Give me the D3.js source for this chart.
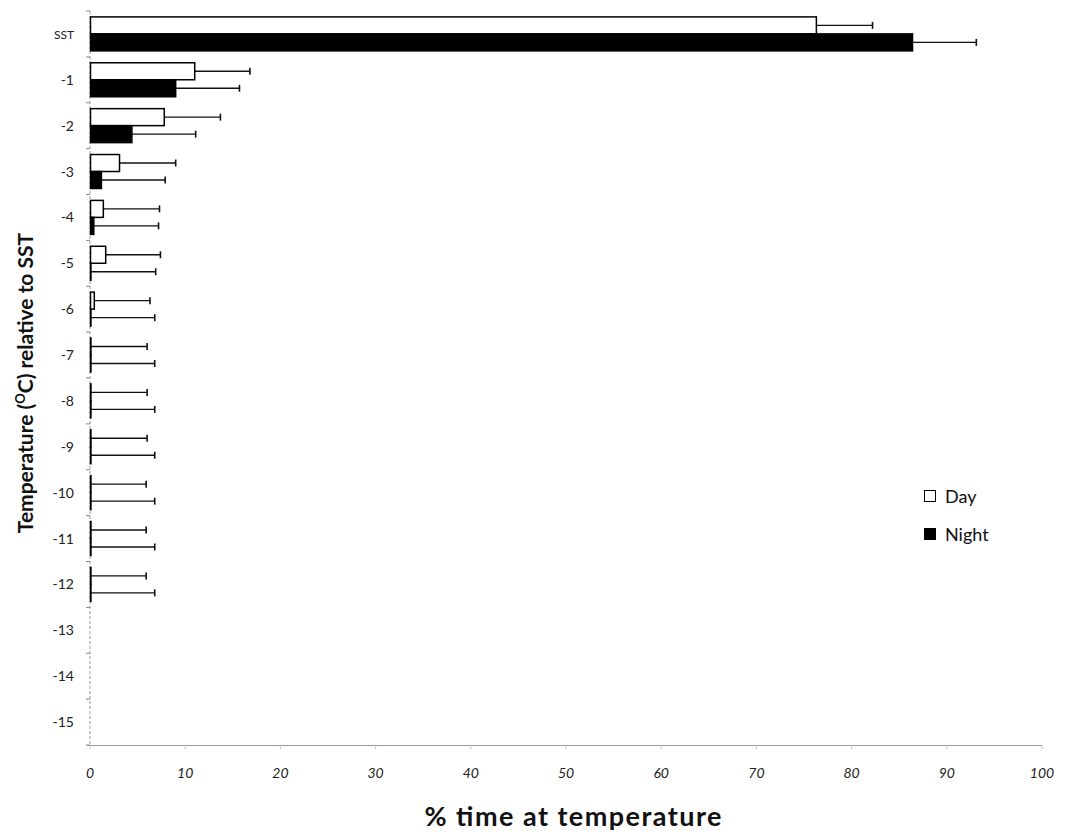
<!DOCTYPE html>
<html>
<head>
<meta charset="utf-8">
<script src="https://cdn.jsdelivr.net/npm/d3@7"></script>
<style>
  html, body { margin: 0; padding: 0; background: #fff; }
  svg { display: block; font-family: Lato, "Open Sans", sans-serif; }
</style>
</head>
<body>
<svg id="chart" width="1077" height="835"></svg>
<script>
// Temperature bins relative to sea surface temperature
const categories = ["SST", "-1", "-2", "-3", "-4", "-5", "-6", "-7", "-8", "-9", "-10", "-11", "-12", "-13", "-14", "-15"];
const seriesNames = ["Day", "Night"];

// Mean % time in each bin, with standard deviation (null = no data)
const dayMean  = [76.3, 11.0, 7.8, 3.1, 1.4, 1.65, 0.45, 0.1, 0.1, 0.1, 0.1, 0.1, 0.1, null, null, null];
const daySD    = [5.9, 5.8, 5.9, 5.9, 5.9, 5.75, 5.85, 5.9, 5.9, 5.9, 5.8, 5.8, 5.8, null, null, null];
const nightMean = [86.4, 9.0, 4.4, 1.2, 0.4, 0.1, 0.1, 0.1, 0.1, 0.1, 0.1, 0.1, 0.1, null, null, null];
const nightSD   = [6.7, 6.7, 6.7, 6.7, 6.8, 6.8, 6.7, 6.7, 6.7, 6.7, 6.7, 6.7, 6.7, null, null, null];

const xTicks = [0, 10, 20, 30, 40, 50, 60, 70, 80, 90, 100];

const svg = d3.select("#chart");

const x = d3.scaleLinear().domain([0, 100]).range([90, 1042]);
const y = d3.scaleBand().domain(categories).range([11, 745]);
const bw = y.bandwidth();
const sub = d3.scaleBand().domain(seriesNames).range([5.9, bw - 6]);

const rows = categories.map((c, i) => ({
  cat: c,
  values: [
    { name: "Day", mean: dayMean[i], sd: daySD[i] },
    { name: "Night", mean: nightMean[i], sd: nightSD[i] }
  ]
}));

// Axes
const axisColor = "#9a9a9a";
svg.append("line")
  .attr("x1", x(0)).attr("x2", x(0))
  .attr("y1", y.range()[0]).attr("y2", y.range()[1])
  .attr("stroke", axisColor).attr("stroke-width", 1)
  .attr("stroke-dasharray", "3,2");
svg.append("line")
  .attr("x1", x(0) - 3).attr("x2", x(100))
  .attr("y1", 745.5).attr("y2", 745.5)
  .attr("stroke", axisColor).attr("stroke-width", 1);

// x tick marks and labels
svg.selectAll(".xtick").data(xTicks).enter().append("line")
  .attr("x1", d => x(d)).attr("x2", d => x(d))
  .attr("y1", 745.5).attr("y2", 749)
  .attr("stroke", "#c8c8c8");
svg.selectAll(".xlab").data(xTicks).enter().append("text")
  .attr("x", d => x(d)).attr("y", 778)
  .attr("text-anchor", "middle")
  .attr("font-size", 14).attr("font-style", "italic")
  .attr("fill", "#222")
  .text(d => d);

// y tick marks at band boundaries
const boundaries = categories.map(c => y(c)).concat([y.range()[1]]);
svg.selectAll(".ytick").data(boundaries).enter().append("line")
  .attr("x1", x(0) - 4).attr("x2", x(0))
  .attr("y1", d => d).attr("y2", d => d)
  .attr("stroke", "#888");

// category labels
svg.selectAll(".ylab").data(categories).enter().append("text")
  .attr("x", 74).attr("y", d => y(d) + bw / 2 + 5)
  .attr("text-anchor", "end")
  .attr("font-size", d => d === "SST" ? 12 : 14)
  .attr("fill", "#222")
  .text(d => d);

// Bars and error bars
const groups = svg.selectAll(".grp").data(rows).enter().append("g")
  .attr("transform", d => `translate(0,${y(d.cat)})`);

const items = groups.selectAll(".item")
  .data(d => d.values.filter(v => v.mean !== null))
  .enter().append("g");

items.append("line")
  .attr("x1", d => x(d.mean)).attr("x2", d => x(d.mean + d.sd))
  .attr("y1", d => sub(d.name) + sub.bandwidth() / 2)
  .attr("y2", d => sub(d.name) + sub.bandwidth() / 2)
  .attr("stroke", "#111").attr("stroke-width", 1.3);
items.append("line")
  .attr("x1", d => x(d.mean + d.sd)).attr("x2", d => x(d.mean + d.sd))
  .attr("y1", d => sub(d.name) + sub.bandwidth() / 2 - 3.5)
  .attr("y2", d => sub(d.name) + sub.bandwidth() / 2 + 3.5)
  .attr("stroke", "#111").attr("stroke-width", 1.6);

items.append("rect")
  .attr("x", x(0) + 0.5)
  .attr("y", d => sub(d.name))
  .attr("width", d => Math.max(0, x(d.mean) - x(0) - 0.5))
  .attr("height", sub.bandwidth())
  .attr("fill", d => d.name === "Day" ? "#fff" : "#000")
  .attr("stroke", "#000").attr("stroke-width", 1.5);

// Legend
const legend = [
  { name: "Day", y: 497 },
  { name: "Night", y: 535 }
];
const lg = svg.selectAll(".lg").data(legend).enter().append("g")
  .attr("transform", d => `translate(924,${d.y})`);
lg.append("rect")
  .attr("x", 0.5).attr("y", -6.5)
  .attr("width", 11).attr("height", 11)
  .attr("fill", d => d.name === "Day" ? "#fff" : "#000")
  .attr("stroke", "#000").attr("stroke-width", 1);
lg.append("text")
  .attr("x", 21).attr("y", 6)
  .attr("font-size", 18)
  .attr("fill", "#111")
  .text(d => d.name);

// Axis titles
svg.append("text")
  .attr("x", 573).attr("y", 826)
  .attr("text-anchor", "middle")
  .attr("font-size", 27).attr("font-weight", "bold")
  .attr("textLength", 297).attr("lengthAdjust", "spacing")
  .attr("fill", "#111")
  .text("% time at temperature");

const yt = svg.append("text")
  .attr("transform", "translate(33,383) rotate(-90)")
  .attr("text-anchor", "middle")
  .attr("font-size", 21).attr("font-weight", "bold")
  .attr("fill", "#111");
yt.append("tspan").text("Temperature (");
yt.append("tspan").attr("font-size", 13).attr("dy", -8).text("O");
yt.append("tspan").attr("dy", 8).text("C) relative to SST");
</script>
</body>
</html>
